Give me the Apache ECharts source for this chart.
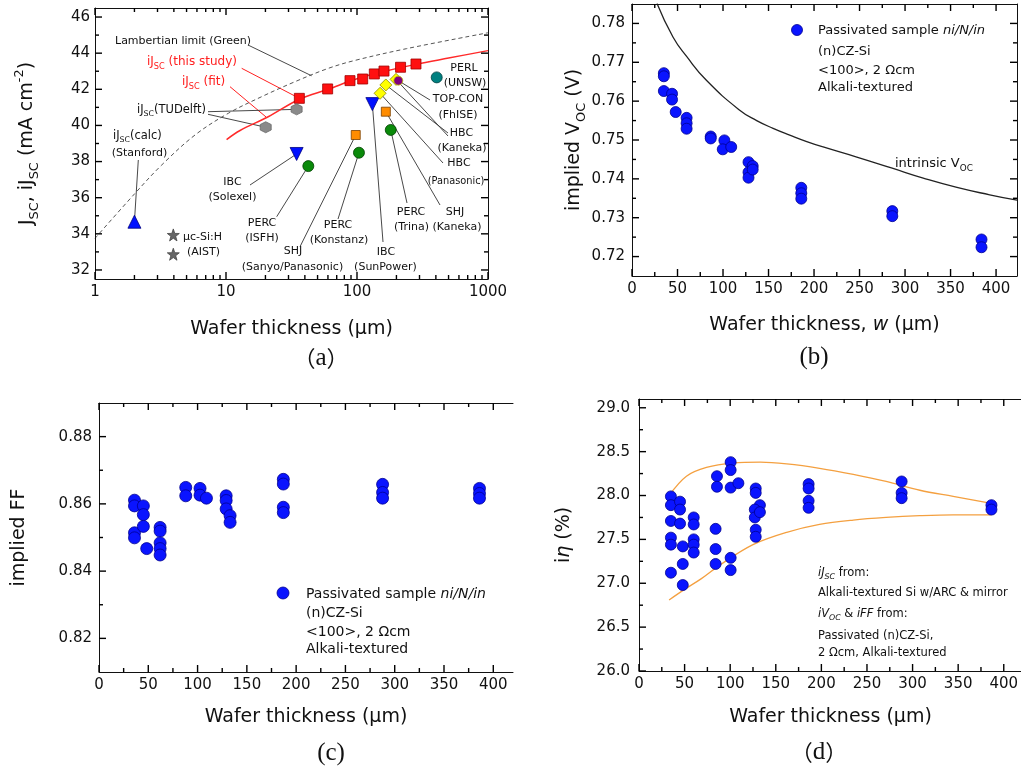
<!DOCTYPE html>
<html><head><meta charset="utf-8">
<script src="https://cdn.jsdelivr.net/npm/echarts@6/dist/echarts.min.js"></script>
<style>html,body{margin:0;padding:0;background:#fff}#c{width:1021px;height:770px}</style>
</head><body><div id="c"></div>
<script>
// ---------------- DATA ----------------
// Panel (a): Jsc vs wafer thickness (log x)
const aXTicks = [1, 10, 100, 1000];
const aXMinor = [2,3,4,5,6,7,8,9,20,30,40,50,60,70,80,90,200,300,400,500,600,700,800,900];
const aYTicks = [32,34,36,38,40,42,44,46];
const aThisStudy = [[36.3,41.50],[59.7,42.02],[88.4,42.48],[110.5,42.57],[135.6,42.85],[160.7,43.01],[215,43.22],[282,43.40]];
const aFit = [[10.1,39.22],[12.8,39.72],[21,40.48],[36.3,41.45],[60,42.0],[100,42.58],[160,42.98],[280,43.38],[500,43.73],[1000,44.14]];
const aLambert = [[1,33.75],[2.02,36.24],[3.23,37.81],[5.8,39.47],[10.4,40.67],[18.7,41.59],[33.6,42.42],[60.4,43.16],[96.6,43.6],[239,44.25],[1000,45.13]];
const aTUDelft = [[34.6,40.89],[20.1,39.90]];
const aStanford = [[2.0,34.67]];
const aIBC = [[34.6,38.42],[131,41.18]];
const aPERC = [[42.5,37.75],[103.5,38.49],[181,39.75]];
const aSHJ = [[97.8,39.47],[166,40.76]];
const aHBC = [[150,41.78],[166,42.24],[198.5,42.55]];
const aTOPCON = [[206.7,42.48]];
const aPERL = [[406,42.66]];
const aMucSi = [[3.96,33.94],[3.96,32.87]];

// Panel (b): implied Voc
const bXTicks = [0,50,100,150,200,250,300,350,400];
const bYTicks = [0.72,0.73,0.74,0.75,0.76,0.77,0.78];
const bPoints = [[35,0.7672],[35,0.7664],[35,0.7626],[44,0.7619],[44,0.7604],[48,0.7572],[60,0.7557],[60,0.7543],[60,0.7529],
  [86.5,0.7509],[86.5,0.7504],[101.5,0.7499],[99.7,0.7476],[109,0.7482],[128,0.7443],[128,0.7417],[128,0.7403],[132.6,0.7433],[132.6,0.7424],
  [186,0.7377],[186,0.7363],[186,0.7349],[286,0.7317],[286,0.7304],[384,0.7244],[384,0.7224]];
const bIntrinsic = [[27.5,0.7851],[45,0.7765],[60,0.7715],[82,0.7653],[118.7,0.7576],[137,0.7550],[155,0.7530],[174,0.7512],[192,0.7496],
  [210,0.7482],[247,0.7456],[285,0.7428],[320,0.7402],[357,0.7378],[393,0.7359],[423,0.7345]];

// Panel (c): implied FF
const cXTicks = [0,50,100,150,200,250,300,350,400];
const cYTicks = [0.82,0.84,0.86,0.88];
const cPoints = [[36,0.8611],[36,0.8594],[36,0.8514],[36,0.8499],[45,0.8594],[45,0.8568],[45,0.8533],[48.4,0.8467],
  [62,0.8530],[62,0.8519],[62,0.8484],[62,0.8467],[62,0.8448],[88,0.8649],[88,0.8624],[102.5,0.8646],[102.5,0.8626],[109,0.8617],
  [129,0.8624],[129,0.8610],[129,0.8585],[133,0.8565],[133,0.8545],[187,0.8673],[187,0.8659],[187,0.8590],[187,0.8574],
  [287.7,0.8658],[287.7,0.8634],[287.7,0.8617],[386,0.8646],[386,0.8631],[386,0.8617]];

// Panel (d): implied efficiency
const dXTicks = [0,50,100,150,200,250,300,350,400];
const dYTicks = [26.0,26.5,27.0,27.5,28.0,28.5,29.0];
const dPoints = [[35,27.99],[35,27.89],[35,27.71],[35,27.52],[35,27.44],[35,27.12],[45,27.93],[45,27.84],[45,27.68],
  [48,27.42],[48,27.22],[48,26.98],[60,27.75],[60,27.67],[60,27.50],[60,27.44],[60,27.35],[85.5,28.22],[85.5,28.10],
  [84,27.62],[84,27.39],[84,27.22],[100.5,28.38],[100.5,28.29],[100.5,28.09],[100.5,27.29],[100.5,27.15],[109,28.14],
  [128,28.08],[128,28.03],[132.6,27.89],[127,27.84],[127,27.75],[132.6,27.81],[128,27.61],[128,27.53],
  [186,28.13],[186,28.08],[186,27.94],[186,27.86],[288,28.16],[288,28.03],[288,27.97],[386.5,27.89],[386.5,27.84]];
const dUpper = [[33,28.0],[52,28.22],[74,28.32],[103,28.37],[133,28.38],[162,28.36],[198,28.31],[235,28.24],[271,28.16],[308,28.06],[344.5,27.99],[386.5,27.91]];
const dLower = [[33,26.81],[50,26.93],[68,27.05],[89,27.21],[125,27.44],[162,27.58],[198,27.67],[235,27.72],[271,27.75],[308,27.77],[344.5,27.78],[386.5,27.78]];

// ---------------- STYLE / LAYOUT ----------------
const F = 'DejaVu Sans';
const INK = '#111';
const LINE = '#000';
const BLUE = '#0a14ff', BLUE_EDGE = '#000090';

function mids(arr, lo, hi) {
  const out = [];
  for (let i = 0; i < arr.length - 1; i++) out.push((arr[i] + arr[i + 1]) / 2);
  return out.filter(v => v > lo && v < hi);
}
function richE(fs, color) {
  const s = Math.round(fs * 0.68 * 10) / 10;
  return {
    sub: {fontFamily: F, fontSize: s, lineHeight: s, verticalAlign: 'bottom', color},
    sup: {fontFamily: F, fontSize: s, lineHeight: s, verticalAlign: 'top', color},
    it: {fontFamily: F, fontSize: fs, fontStyle: 'italic', color},
    itsub: {fontFamily: F, fontSize: s, lineHeight: s, verticalAlign: 'bottom', fontStyle: 'italic', color},
    cjk: {fontFamily: 'Noto Sans CJK SC', fontSize: fs, color}
  };
}
function richZ(fs, color) {
  const r = richE(fs, color);
  Object.keys(r).forEach(k => { r[k].fill = color; delete r[k].color; });
  return r;
}

const gridRects = [
  {left: 95, top: 8, width: 393, height: 271},
  {left: 632, top: 4, width: 385, height: 272},
  {left: 99, top: 403, width: 414, height: 269},
  {left: 639, top: 399, width: 383, height: 272}
];
const grids = gridRects.map(g => Object.assign({show: false, containLabel: false, outerBoundsMode: 'none'}, g));

const xAxes = [], yAxes = [];
function valAxis(grid, pos, min, max, o) {
  o = o || {};
  const a = {
    type: 'value', gridIndex: grid, position: pos, min: min, max: max,
    axisLine: {show: true, onZero: false, lineStyle: {color: '#111', width: 1}},
    axisTick: {show: false},
    axisLabel: {show: false},
    splitLine: {show: false}, splitArea: {show: false}, silent: true, z: 4
  };
  if (o.fmt) a.axisLabel = {show: true, customValues: o.ticks, formatter: o.fmt, fontFamily: F, fontSize: 15, color: INK, margin: o.margin};
  if (o.name) {
    a.name = o.name; a.nameLocation = 'middle'; a.nameGap = o.nameGap;
    a.nameTextStyle = {fontFamily: F, fontSize: 19, color: INK, lineHeight: o.nameLH, rich: richE(19, INK)};
  }
  return a;
}
function add(list, a) { list.push(a); return list.length - 1; }

// Panel (a) axes
const aLog = add(xAxes, {type: 'log', logBase: 10, gridIndex: 0, min: 1, max: 1000, show: false});
const L10 = v => Math.log10(v);
add(xAxes, valAxis(0, 'bottom', 0, 3, {ticks: aXTicks.map(L10), fmt: v => String(Math.round(Math.pow(10, v))), margin: 6,
  name: 'Wafer thickness (μm)', nameGap: 39, nameLH: 22}));
add(xAxes, valAxis(0, 'top', 0, 3));
const aY = add(yAxes, valAxis(0, 'left', 31.5, 46.5, {ticks: aYTicks, fmt: v => String(v), margin: 5,
  name: 'J{sub|SC}, iJ{sub|SC} (mA cm{sup|-2})', nameGap: 54, nameLH: 27.5}));
add(yAxes, valAxis(0, 'right', 31.5, 46.5));

// Panel (b) axes
const bXmax = 423, bYmin = 0.715, bYmax = 0.785;
const bX = add(xAxes, valAxis(1, 'bottom', 0, bXmax, {ticks: bXTicks, fmt: v => String(v), margin: 6,
  name: 'Wafer thickness, {it|w} (μm)', nameGap: 38, nameLH: 22}));
add(xAxes, valAxis(1, 'top', 0, bXmax));
const bY = add(yAxes, valAxis(1, 'left', bYmin, bYmax, {ticks: bYTicks, fmt: v => v.toFixed(2), margin: 7,
  name: 'implied V{sub|OC} (V)', nameGap: 41, nameLH: 27.5}));
add(yAxes, valAxis(1, 'right', bYmin, bYmax));

// Panel (c) axes
const cXmax = 420, cYmin = 0.81, cYmax = 0.89;
const cX = add(xAxes, valAxis(2, 'bottom', 0, cXmax, {ticks: cXTicks, fmt: v => String(v), margin: 6,
  name: 'Wafer thickness (μm)', nameGap: 34, nameLH: 22}));
add(xAxes, valAxis(2, 'top', 0, cXmax));
const cY = add(yAxes, valAxis(2, 'left', cYmin, cYmax, {ticks: cYTicks, fmt: v => v.toFixed(2), margin: 7,
  name: 'implied FF', nameGap: 66, nameLH: 27.5}));

// Panel (d) axes
const dXmax = 420, dYmin = 26.0, dYmax = 29.1;
const dX = add(xAxes, valAxis(3, 'bottom', 0, dXmax, {ticks: dXTicks, fmt: v => String(v), margin: 6,
  name: 'Wafer thickness (μm)', nameGap: 35, nameLH: 22}));
add(xAxes, valAxis(3, 'top', 0, dXmax));
const dY = add(yAxes, valAxis(3, 'left', dYmin, dYmax, {ticks: dYTicks, fmt: v => v.toFixed(1), margin: 9,
  name: 'i{it|η} (%)', nameGap: 61, nameLH: 27.5}));

// ---------------- SERIES ----------------
const HEX = 'path://M0,-10 L8.66,-5 L8.66,5 L0,10 L-8.66,5 L-8.66,-5 Z';
const STAR = 'path://M0,-10 L2.35,-3.24 L9.51,-3.09 L3.8,1.24 L5.88,8.09 L0,4 L-5.88,8.09 L-3.8,1.24 L-9.51,-3.09 L-2.35,-3.24 Z';
const A = {xAxisIndex: aLog, yAxisIndex: aY};
const B = {xAxisIndex: bX, yAxisIndex: bY}, C = {xAxisIndex: cX, yAxisIndex: cY}, D = {xAxisIndex: dX, yAxisIndex: dY};
function sc(ax, data, symbol, size, color, edge, extra) {
  return Object.assign({type: 'scatter', xAxisIndex: ax.xAxisIndex, yAxisIndex: ax.yAxisIndex, data, symbol, symbolSize: size,
    itemStyle: {color, borderColor: edge, borderWidth: 0.8, opacity: 1}, silent: true, z: 5}, extra || {});
}
function ln(ax, data, color, width, type, extra) {
  return Object.assign({type: 'line', xAxisIndex: ax.xAxisIndex, yAxisIndex: ax.yAxisIndex, data, smooth: 0.35, symbol: 'none',
    lineStyle: {color, width, type}, silent: true, z: 3}, extra || {});
}
const series = [
  ln(A, aLambert, '#555', 1, [4, 3]),
  ln(A, aFit, '#ff2a2a', 1.5, 'solid'),
  sc(A, aThisStudy, 'rect', 10, '#ff1010', '#a00000'),
  sc(A, aTUDelft, HEX, 11, '#8a8a8a', '#6a6a6a'),
  sc(A, aStanford, 'triangle', 13, '#0010ff', '#000080'),
  sc(A, aIBC, 'triangle', 13, '#0010ff', '#000080', {symbolRotate: 180}),
  sc(A, aPERC, 'circle', 11, '#0a8a0a', '#004000'),
  sc(A, aSHJ, 'rect', 9, '#ff8c00', '#7a4000'),
  sc(A, aHBC, 'diamond', 12, '#ffff00', '#8a8a00'),
  sc(A, aTOPCON, 'circle', 9, '#800080', '#c0c000', {z: 6}),
  sc(A, aPERL, 'circle', 11, '#008080', '#004040'),
  sc(A, aMucSi, STAR, 12, '#666', '#444'),
  ln(B, bIntrinsic, '#222', 1.3, 'solid', {smooth: 0.5}),
  sc(B, bPoints, 'circle', 11, BLUE, BLUE_EDGE),
  sc(C, cPoints, 'circle', 12, BLUE, BLUE_EDGE),
  ln(D, dUpper, '#f4a040', 1.3, 'solid'),
  ln(D, dLower, '#f4a040', 1.3, 'solid'),
  sc(D, dPoints, 'circle', 11, BLUE, BLUE_EDGE)
];
const SER = {A: 0, B: 12, C: 14, D: 17};

const chart = echarts.init(document.getElementById('c'), null, {renderer: 'canvas', width: 1021, height: 770});
chart.setOption({
  animation: false,
  backgroundColor: '#fff',
  grid: grids,
  xAxis: xAxes,
  yAxis: yAxes,
  series: series
});

const elements = [];

// ---------------- TICK MARKS: positions from each panel's own scale ----------------
const MAJ = 7, MIN = 4, TW = 1.4;
const tickSpecs = [
  {s: SER.A, g: 0, xMaj: aXTicks, xMin: aXMinor, yMaj: aYTicks, yMin: mids(aYTicks, 31.5, 46.5), xRef: 10, yRef: 40, right: true},
  {s: SER.B, g: 1, xMaj: bXTicks, xMin: mids(bXTicks.concat([450]), 0, bXmax), yMaj: bYTicks, yMin: mids(bYTicks, bYmin, bYmax), xRef: 100, yRef: 0.75, right: true},
  {s: SER.C, g: 2, xMaj: cXTicks, xMin: mids(cXTicks, 0, cXmax), yMaj: cYTicks, yMin: mids(cYTicks, cYmin, cYmax), xRef: 100, yRef: 0.85, right: false},
  {s: SER.D, g: 3, xMaj: dXTicks, xMin: mids(dXTicks, 0, dXmax), yMaj: dYTicks, yMin: mids(dYTicks, dYmin, dYmax), xRef: 100, yRef: 27, right: false}
];
function seg(x1, y1, x2, y2) {
  elements.push({type: 'line', z: 40, silent: true, shape: {x1: x1, y1: y1, x2: x2, y2: y2}, style: {stroke: LINE, lineWidth: TW}});
}
tickSpecs.forEach(t => {
  const r = gridRects[t.g];
  const top = r.top, bot = r.top + r.height, left = r.left, right = r.left + r.width;
  [[t.xMaj, MAJ], [t.xMin, MIN]].forEach(([vals, len]) => vals.forEach(v => {
    const px = chart.convertToPixel({seriesIndex: t.s}, [v, t.yRef])[0];
    if (!(px >= left - 0.5 && px <= right + 0.5)) return;
    seg(px, bot, px, bot - len);
    seg(px, top, px, top + len);
  }));
  [[t.yMaj, MAJ], [t.yMin, MIN]].forEach(([vals, len]) => vals.forEach(v => {
    const py = chart.convertToPixel({seriesIndex: t.s}, [t.xRef, v])[1];
    if (!(py >= top - 0.5 && py <= bot + 0.5)) return;
    seg(left, py, left + len, py);
    if (t.right) seg(right, py, right - len, py);
  }));
});

// ---------------- ANNOTATIONS (layout in pixels) ----------------
const RED = '#ff2020';
const aLabels = [
  ['Lambertian limit (Green)', 115, 41, 'left'],
  ['iJ{sub|SC} (this study)', 147, 62, 'left', RED, 12],
  ['iJ{sub|SC} (fit)', 182, 82, 'left', RED, 12],
  ['iJ{sub|SC}(TUDelft)', 137, 110, 'left', INK, 11.5],
  ['iJ{sub|SC}(calc)', 113, 136, 'left', INK, 11.5],
  ['(Stanford)', 139.5, 153, 'center'],
  ['IBC', 232.5, 182, 'center'], ['(Solexel)', 232.5, 197, 'center'],
  ['μc-Si:H', 183, 237, 'left'], ['(AIST)', 187, 252, 'left'],
  ['PERC', 262, 223, 'center'], ['(ISFH)', 262, 238, 'center'],
  ['SHJ', 293, 251, 'center'], ['(Sanyo/Panasonic)', 292.5, 267, 'center'],
  ['PERC', 338, 225, 'center'], ['(Konstanz)', 339, 240, 'center'],
  ['IBC', 386, 252, 'center'], ['(SunPower)', 385.5, 267, 'center'],
  ['PERC', 411, 212, 'center'], ['(Trina)', 411.5, 227, 'center'],
  ['SHJ', 455, 212, 'center'], ['(Kaneka)', 457, 227, 'center'],
  ['HBC', 459, 163, 'center'], ['(Panasonic)', 456, 181, 'center', INK, 9.8],
  ['HBC', 461.5, 133, 'center'], ['(Kaneka)', 462, 148, 'center'],
  ['TOP-CON', 458, 99, 'center'], ['(FhISE)', 458, 115, 'center'],
  ['PERL', 464, 68, 'center'], ['(UNSW)', 465, 83, 'center']
];
const aLeaders = [
  [[45, 42.75], [248, 45], '#333'],
  [aThisStudy[0], [241.7, 68.3], RED],
  [[20.2, 40.47], [230, 86.7], RED],
  [aTUDelft[0], [208, 111.7], '#333'],
  [aTUDelft[1], [208, 114.3], '#333'],
  [aStanford[0], [138.3, 160], '#333'],
  [aIBC[0], [250, 185], '#333'],
  [aPERC[0], [276.7, 216.7], '#333'],
  [aSHJ[0], [300, 246.7], '#333'],
  [aPERC[1], [338, 219], '#333'],
  [aIBC[1], [383, 242], '#333'],
  [aPERC[2], [407, 203], '#333'],
  [aSHJ[1], [440, 205], '#333'],
  [aHBC[0], [443, 163], '#333'],
  [aHBC[1], [448, 133], '#333'],
  [aHBC[2], [448, 136], '#333'],
  [aTOPCON[0], [430, 100], '#333']
];
const otherTexts = [
  ['Passivated sample {it|ni/N/in}', 818, 31, 'left', INK, 13],
  ['(n)CZ-Si', 818, 52, 'left', INK, 13],
  ['<100>, 2 Ωcm', 818, 71, 'left', INK, 13],
  ['Alkali-textured', 818, 88, 'left', INK, 13],
  ['intrinsic V{sub|OC}', 895, 164, 'left', INK, 13],
  ['Passivated sample {it|ni/N/in}', 306, 594, 'left', INK, 14],
  ['(n)CZ-Si', 306, 613, 'left', INK, 14],
  ['<100>, 2 Ωcm', 306, 632, 'left', INK, 14],
  ['Alkali-textured', 306, 649, 'left', INK, 14],
  ['{it|iJ}{itsub|SC} from:', 818, 573, 'left', INK, 11.5],
  ['Alkali-textured Si w/ARC & mirror', 818, 593, 'left', INK, 11.5],
  ['{it|iV}{itsub|OC} & {it|iFF} from:', 818, 614, 'left', INK, 11.5],
  ['Passivated (n)CZ-Si,', 818, 636, 'left', INK, 11.5],
  ['2 Ωcm, Alkali-textured', 818, 653, 'left', INK, 11.5]
];
const panelTags = [['{cjk|（}a{cjk|）}', 321, 358], ['(b)', 814, 357], ['(c)', 331, 753], ['{cjk|（}d{cjk|）}', 819, 752]];

function txt(t, x, y, align, color, fs, family) {
  color = color || INK; fs = fs || 11;
  return {type: 'text', x, y, z: 20, silent: true,
    style: {text: t, fill: color, fontFamily: family || F, fontSize: fs, lineHeight: fs * 1.45,
      align: align, textAlign: align, verticalAlign: 'middle', textVerticalAlign: 'middle', rich: richZ(fs, color)}};
}
aLabels.concat(otherTexts).forEach(l => elements.push(txt(l[0], l[1], l[2], l[3], l[4], l[5])));
aLeaders.forEach(l => {
  const p = chart.convertToPixel({seriesIndex: SER.A}, l[0]);
  elements.push({type: 'line', z: 1, silent: true, shape: {x1: p[0], y1: p[1], x2: l[1][0], y2: l[1][1]},
    style: {stroke: l[2], lineWidth: l[2] === RED ? 1 : 0.9}});
});
panelTags.forEach(p => {
  const e = txt(p[0], p[1], p[2], 'center', '#111', 25, 'Liberation Serif');
  e.style.rich.cjk.fontSize = 22;
  elements.push(e);
});
elements.push({type: 'circle', z: 20, silent: true, shape: {cx: 797, cy: 30, r: 5.5}, style: {fill: BLUE, stroke: BLUE_EDGE, lineWidth: 0.8}});
elements.push({type: 'circle', z: 20, silent: true, shape: {cx: 283, cy: 593, r: 6}, style: {fill: BLUE, stroke: BLUE_EDGE, lineWidth: 0.8}});

chart.setOption({graphic: {elements: elements}});
</script></body></html>
